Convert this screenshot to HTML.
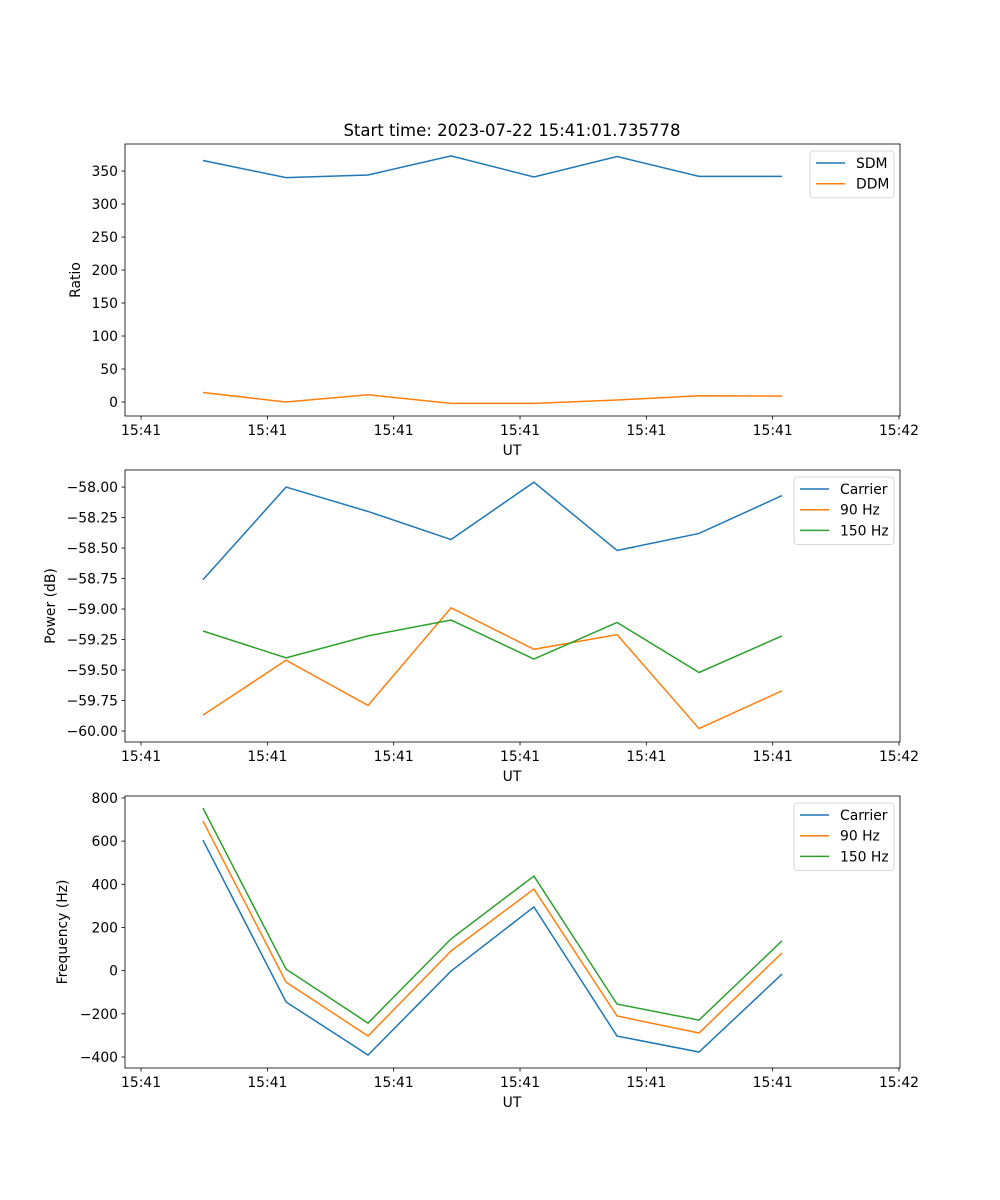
<!DOCTYPE html>
<html><head><meta charset="utf-8"><style>body{margin:0;background:#fff}svg{display:block;font-family:"DejaVu Sans","Liberation Sans",sans-serif}</style></head>
<body>
<svg id="c" width="1000" height="1200" xmlns="http://www.w3.org/2000/svg">
<text x="512" y="136" font-size="16.5" text-anchor="middle">Start time: 2023-07-22 15:41:01.735778</text>
</svg>
<script>
const times=[0.49,1.148,1.797,2.454,3.11,3.768,4.417,5.074];
const xTickVals=[0,1,2,3,4,5,6];
const xTickLabels=["15:41","15:41","15:41","15:41","15:41","15:41","15:42"];
const sdm=[366,340,344,373,341,372,342,342];
const ddm=[14.5,0,11,-2,-2,3,9.5,9];
const powCarrier=[-58.76,-58.0,-58.2,-58.43,-57.96,-58.52,-58.38,-58.07];
const pow90=[-59.87,-59.42,-59.79,-58.99,-59.33,-59.21,-59.98,-59.67];
const pow150=[-59.18,-59.40,-59.22,-59.09,-59.41,-59.11,-59.52,-59.22];
const freqCarrier=[605,-145,-391,-2,295,-303,-377,-16];
const freq90=[693,-53,-303,91,378,-210,-289,82];
const freq150=[753,7,-243,147,438,-155,-229,138];
const ticks1=[0,50,100,150,200,250,300,350];
const ticks2=[-60,-59.75,-59.5,-59.25,-59,-58.75,-58.5,-58.25,-58];
const ticks3=[-400,-200,0,200,400,600,800];
const NS="http://www.w3.org/2000/svg";
const svg=document.getElementById('c');
const L=125,R=900,X0=-0.127,X1=6.008,FS=13.9;
const sx=v=>L+(v-X0)/(X1-X0)*(R-L);
function mk(t,a,p){const e=document.createElementNS(NS,t);for(const k in a)e.setAttribute(k,a[k]);(p||svg).appendChild(e);return e;}
const colors=["#1f77b4","#ff7f0e","#2ca02c"];
function panel(id,top,ymin,ymax,yticks,fmt,ylabel,series,names,legW){
  const bot=top+272;
  const sy=v=>bot-(v-ymin)/(ymax-ymin)*272;
  const g=mk('g',{});
  
  
  series.forEach((s,i)=>{
    const pl=mk('polyline',{points:s.map((v,j)=>sx(times[j])+','+sy(v)).join(' '),fill:'none',stroke:colors[i],'stroke-width':1.5},g);
    
    
  });
  mk('rect',{x:L,y:top,width:R-L,height:272,fill:'none',stroke:'#000','stroke-width':0.8},g);
  xTickVals.forEach((v,i)=>{const x=sx(v);mk('line',{x1:x,x2:x,y1:bot,y2:bot+3.5,stroke:'#000','stroke-width':0.8},g);
    const t=mk('text',{x:x,y:bot+19,'font-size':FS,'text-anchor':'middle'},g);t.textContent=xTickLabels[i];
    });
  yticks.forEach(v=>{const y=sy(v);mk('line',{x1:L-3.5,x2:L,y1:y,y2:y,stroke:'#000','stroke-width':0.8},g);
    const t=mk('text',{x:L-7,y:y+5,'font-size':FS,'text-anchor':'end'},g);t.textContent=fmt(v);
    });
  const xl=mk('text',{x:512,y:bot+39,'font-size':FS,'text-anchor':'middle'},g);xl.textContent='UT';
  
  const lx=ylabel.x, yl=mk('text',{x:lx,y:top+136,'font-size':FS,'text-anchor':'middle',transform:`rotate(-90 ${lx} ${top+136})`},g);yl.textContent=ylabel.t;
  
  const lg=mk('g',{},g);
  
  
  const bx=R-6-legW;
  mk('rect',{x:bx,y:top+7,width:legW,height:names.length*20.7+5.5,rx:3,fill:'#fff',stroke:'#ccc','stroke-width':0.8},lg);
  names.forEach((n,i)=>{const y=top+19+i*20.7;
    mk('line',{x1:bx+6,x2:bx+35,y1:y,y2:y,stroke:colors[i],'stroke-width':1.5},lg);
    const t=mk('text',{x:bx+46,y:y+5,'font-size':FS},lg);t.textContent=n;
    });
}
panel('ratio',144,-21.2,391,ticks1,v=>String(v),{x:80,t:'Ratio'},[sdm,ddm],['SDM','DDM'],84);
panel('power',470,-60.09,-57.86,ticks2,v=>v.toFixed(2).replace('-','\u2212'),{x:55,t:'Power (dB)'},[powCarrier,pow90,pow150],['Carrier','90 Hz','150 Hz'],100);
panel('frequency',796,-451,809,ticks3,v=>String(v).replace('-','\u2212'),{x:67,t:'Frequency (Hz)'},[freqCarrier,freq90,freq150],['Carrier','90 Hz','150 Hz'],100);
</script>
</body></html>
